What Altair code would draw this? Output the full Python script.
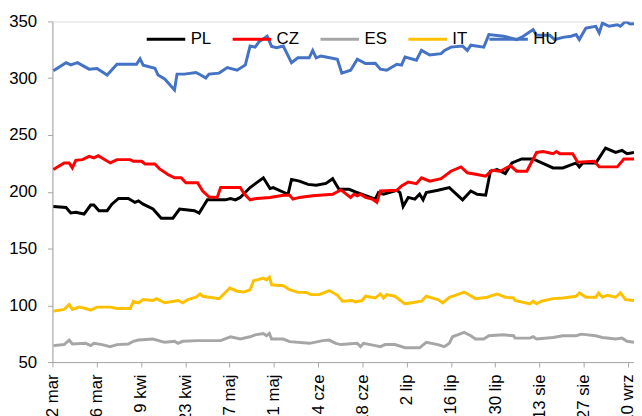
import json
import altair as alt
import pandas as pd

FONT = "Liberation Sans Narrow, Arial Narrow, Liberation Sans, sans-serif"

title_text = "Spread 10-letnich obligacji do Bunda"
series_names = ["PL", "CZ", "ES", "IT", "HU"]
series_colors = ["#000000", "#FF0000", "#A6A6A6", "#FFC000", "#4472C4"]

# x axis: days since 12 March, labelled every 14 days
tick_days = [0, 14, 28, 42, 56, 70, 84, 98, 112, 126, 140, 154, 168, 182]
tick_labels = ["12 mar", "26 mar", "9 kwi", "23 kwi", "7 maj", "21 maj", "4 cze",
               "18 cze", "2 lip", "16 lip", "30 lip", "13 sie", "27 sie", "10 wrz"]
y_ticks = [50, 100, 150, 200, 250, 300, 350]

pl_days = [0.3, 4.3, 5.8, 7.4, 10, 12.1, 13.1, 14.7, 17.3, 18.8, 20.9, 24, 26.1, 27.2, 28.7,
           31.8, 34.4, 38.1, 40.2, 42.2, 44.9, 46.4, 49, 54.7, 56.3, 57.9, 59.4, 62.5, 64.6,
           66.7, 68.8, 69.8, 74.5, 75.6, 78.1, 80.8, 83.4, 86.5, 88.6, 90.6, 93.8, 95.8,
           102.1, 103.1, 104.7, 108.9, 109.9, 110.9, 112.5, 114.6, 116.1, 117.2, 118.2,
           121.9, 125.5, 129.7, 132.3, 134.3, 137, 138.5, 140.6, 143.2, 145.3, 148.4, 152,
           158.3, 161.4, 165.6, 166.6, 167.7, 171.8, 172.9, 174.9, 178.1, 180.1, 181.7, 183.9]
pl_values = [187.1, 186.2, 181.3, 181.9, 180.4, 188.3, 188.3, 183.3, 183.3, 189.1, 194.1, 194.1,
             190.6, 192, 189.1, 184.8, 176.7, 176.7, 184.8, 184.2, 183.3, 181.3, 192.9, 192.9,
             194.1, 192.9, 195, 203.7, 208, 212.3, 202.8, 203.7, 197.8, 210.9, 209.4, 206.5,
             205.7, 207.4, 211.5, 202.2, 202.2, 199.9, 193.5, 199.3, 197.8, 201.3, 199.3, 187.1,
             195, 193.5, 197.8, 192.9, 199.3, 201.3, 203.7, 192.9, 200.7, 197.8, 197, 218.1,
             219.6, 216.1, 225.4, 228.9, 228.9, 221, 221, 225.4, 221.9, 225.4, 225.4, 229.8,
             238.5, 234.6, 236.4, 233.5, 234.6]

cz_days = [0.3, 3.7, 5.3, 6.3, 7.4, 9.5, 11.6, 13.1, 14.5, 16.2, 18.3, 20.4, 24.6, 25.6, 28.2,
           29.3, 32.4, 33.9, 36.5, 38.6, 40.7, 42.2, 45.9, 47.5, 49.5, 52.1, 53.2, 59.4, 60.5,
           62.5, 64.6, 68.8, 73, 75, 76.1, 78.1, 82.3, 86.5, 88.6, 91.2, 94.3, 95.3, 96.4,
           97.4, 99, 101.1, 102.6, 103.7, 108.9, 110.4, 112.5, 115.1, 116.7, 119.3, 122.9,
           126, 129.2, 131.2, 134.3, 137, 139, 141.6, 144.8, 146.8, 150, 153.1, 155.2, 158.3,
           159.4, 160.4, 164.5, 166.1, 171.3, 172.9, 178.6, 180.7, 183.9]
cz_values = [219.6, 225.4, 225.4, 221, 227.7, 228.3, 231.2, 229.8, 231.7, 228.9, 225.4, 228.3,
             228.3, 226.8, 226.8, 224.5, 224.5, 220.1, 215.2, 212.3, 212.3, 208, 208, 200.7,
             195.5, 195, 203.7, 203.7, 198.7, 192.9, 194.1, 195, 197, 197, 193.5, 195, 196.4,
             197.3, 197.8, 201.6, 195, 197.8, 196.4, 197.8, 195, 193.5, 190.6, 200.7, 201.3,
             205.1, 208.6, 207.1, 212.3, 209.4, 211.5, 218.1, 221.9, 216.7, 215.2, 213.8, 219,
             218.1, 223, 218.1, 218.1, 234.6, 235.5, 233.5, 235.5, 233.5, 233.5, 226, 226.8,
             221.9, 221.9, 228.9, 228.9]

es_days = [0.3, 3.7, 5.3, 6.3, 10.5, 12.1, 13.1, 15.7, 18.3, 20.4, 24, 25.6, 27.2, 31.8, 35.5,
           38.6, 39.7, 41.2, 45.9, 53.2, 56.3, 59.4, 62.5, 64.1, 66.7, 67.7, 68.6, 69.3, 73,
           75, 81.3, 85.5, 87.5, 89.6, 91.2, 96.4, 97.4, 98.4, 102.1, 103.7, 105.2, 108.3,
           111.5, 116.1, 118.2, 121.9, 123.9, 125.5, 126.5, 128.1, 130.2, 132.3, 133.8, 136.4,
           138, 142.7, 145.8, 146.3, 151, 152, 153.1, 158.3, 161.4, 165.6, 167.2, 171.8, 173.9,
           178.1, 180.1, 181.7, 183.9]
es_values = [64.5, 65.4, 69.4, 65.9, 66.5, 64.5, 66.5, 65.4, 63.6, 65.4, 65.9, 68.3, 69.4, 70.3,
             67.4, 68.3, 66.5, 68.3, 68.9, 68.9, 72.3, 70.3, 72.3, 74, 75.2, 73.2, 75.2, 70.3,
             70.3, 68, 66.5, 68.9, 69.4, 66.5, 65.4, 66.5, 63.6, 66.5, 64.5, 63.6, 65.4, 65.4,
             62.6, 62.6, 67.4, 65.4, 63.6, 66.5, 72.3, 74, 76.1, 73.2, 70.3, 70.3, 73.2, 74,
             73.2, 71.1, 71.1, 72.3, 70.3, 71.7, 73.2, 73.2, 74.6, 73.2, 71.7, 70.3, 71.1, 68.3,
             67.4]

it_days = [0.3, 3.7, 5.3, 6.3, 8.4, 10.5, 12.1, 14.1, 18.3, 20.4, 24.6, 25.6, 27.2, 28.7, 31.8,
           32.9, 35.5, 39.7, 41.2, 42.8, 45.4, 46.7, 47.5, 52.7, 54.2, 56.1, 58.4, 60.5, 62.5,
           63.6, 66.7, 67.7, 68.6, 69.3, 73, 75, 77.6, 80.2, 81.8, 84.4, 87.5, 90.1, 91.7,
           94.8, 95.8, 97.9, 99, 102.1, 103.7, 104.7, 105.7, 108.3, 111.5, 116.7, 118.2, 121.9,
           123.4, 125.5, 127.6, 130.2, 133.8, 137.5, 140.6, 143.2, 145.8, 146.3, 151, 152,
           153.1, 154.6, 158.3, 161.4, 165.6, 166.6, 168.7, 171.8, 172.7, 173.9, 175.5, 178.1,
           179.6, 181.2, 183.9]
it_values = [94.9, 96.4, 100.7, 96.4, 98.4, 97.2, 95.8, 98.4, 98.4, 97.2, 97.2, 103.6, 102.2,
             105.1, 104.2, 105.9, 102.2, 104.2, 102.2, 105.1, 107.1, 110, 108, 105.9, 110,
             115.2, 112.4, 111.7, 113.7, 121.6, 123.9, 122.4, 124.8, 118.1, 117.3, 113.7, 111.4,
             111.4, 109.4, 109.4, 113, 108.9, 103.6, 104.2, 103, 104.2, 108, 106.5, 110, 106.5,
             109.4, 108, 101.3, 103.6, 108, 105.1, 102.2, 107.1, 108.9, 111.7, 105.9, 107.1,
             110, 107.1, 106.5, 104.2, 101.3, 103.6, 101.3, 103.6, 105.9, 106.5, 108, 110.9,
             107.1, 107.1, 110.9, 107.1, 108.9, 107.1, 110.9, 105.1, 104.2]

hu_days = [0.3, 4.3, 5.8, 7.9, 11.6, 14.1, 17.3, 20.4, 26.6, 27.7, 28.7, 32.4, 33.4, 35.5, 38.6,
           39.4, 41.7, 45.4, 46.9, 48.5, 49.5, 52.7, 55.3, 58.4, 61, 62.5, 64.1, 65.3, 67.9,
           69.3, 70.9, 73, 75.6, 77.6, 81.2, 82.3, 83.4, 84.9, 86.5, 90.1, 91.5, 94.3, 96.4, 99,
           102.1, 103.7, 105.7, 108.9, 110.4, 111.5, 115.1, 116.7, 119.3, 122.9, 124, 126,
           129.7, 131.2, 132.3, 136.4, 138, 142.7, 146.8, 148.9, 152, 153.1, 157.3, 158.8,
           161.4, 164, 165.6, 166.6, 168.7, 171.8, 172.9, 173.9, 176, 178.6, 179.6, 181.2,
           182.7, 183.9]
hu_values = [306.5, 313.7, 311.7, 313.7, 308, 308.5, 302.8, 312.3, 312.3, 317.2, 311.5, 308.8,
             302.8, 299.3, 289.7, 303.6, 303.6, 305, 302.8, 300.2, 303.6, 304.5, 309.4, 307,
             311.7, 328.3, 327.4, 332, 337, 328, 326.8, 328.3, 313.7, 318, 318, 324.5, 318,
             319.6, 318.7, 316.7, 304.5, 307, 316.7, 312.9, 313.2, 308, 307, 312.3, 311.5,
             318.7, 315.8, 324.5, 320.4, 321.6, 324.5, 327.4, 328.3, 324.5, 329.1, 327.4,
             338.4, 337, 334, 337, 342.8, 337.8, 337.8, 334, 336, 337, 338.4, 334, 344.2, 345.7,
             339.8, 348.5, 345.7, 347.1, 345.7, 350, 347.7, 348]

rows = []
for name, days, vals in [("PL", pl_days, pl_values), ("CZ", cz_days, cz_values),
                         ("ES", es_days, es_values), ("IT", it_days, it_values),
                         ("HU", hu_days, hu_values)]:
    for d, v in zip(days, vals):
        rows.append({"series": name, "day": d, "spread": v})
df = pd.DataFrame(rows)

label_expr = json.dumps(tick_labels) + "[round(datum.value / 14)]"

chart = alt.Chart(df, title=alt.TitleParams(
    title_text, fontSize=17, fontWeight="bold", font=FONT, anchor="middle",
    dx=-13, offset=8, color="#000000")).mark_line(strokeWidth=3, clip=True).encode(
    x=alt.X("day:Q",
            scale=alt.Scale(domain=[0, 183.9], nice=False, zero=False),
            axis=alt.Axis(values=tick_days, labelExpr=label_expr, title=None, grid=False,
                          labelAngle=270, labelAlign="right", labelBaseline="middle",
                          tickSize=5, labelPadding=7, domainColor="#a6a6a6",
                          tickColor="#a6a6a6", labelFont=FONT, labelFontSize=17,
                          labelColor="#000000", labelOverlap=False, labelFlush=False)),
    y=alt.Y("spread:Q",
            scale=alt.Scale(domain=[50, 350], nice=False, zero=False),
            axis=alt.Axis(values=y_ticks, title=None, grid=False, tickSize=5,
                          labelPadding=11, domainColor="#a6a6a6", tickColor="#a6a6a6",
                          labelFont=FONT, labelFontSize=17, labelColor="#000000")),
    color=alt.Color("series:N",
                    scale=alt.Scale(domain=series_names, range=series_colors),
                    sort=series_names,
                    legend=alt.Legend(title=None, orient="none", direction="horizontal",
                                      legendX=94, legendY=-3, symbolType="stroke",
                                      symbolSize=1521, symbolStrokeWidth=3,
                                      labelFont=FONT, labelFontSize=17, labelColor="#000000",
                                      labelOffset=4, columnPadding=15, padding=0)),
    detail="series:N",
).properties(
    width=589, height=345,
    autosize=alt.AutoSizeParams(type="none"),
    padding={"left": 45, "top": 11, "right": 0, "bottom": 52},
).configure_view(stroke=None).configure(background="#ffffff")

chart.save("out.html", embed_options={"renderer": "svg", "actions": False})
